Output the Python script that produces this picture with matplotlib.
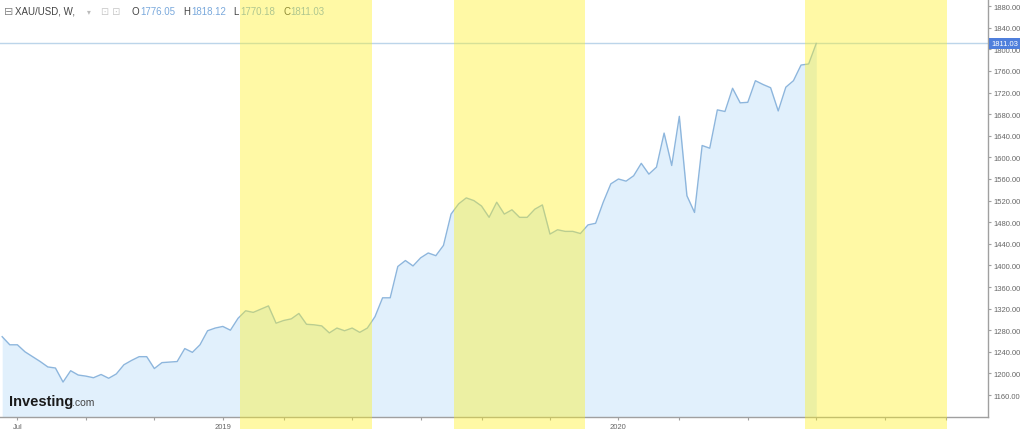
import numpy as np
import pandas as pd
import matplotlib
matplotlib.use('Agg')
import matplotlib.pyplot as plt
from matplotlib.transforms import blended_transform_factory

# weekly closes of XAU/USD, one bar per week starting Sunday
weeks = pd.date_range('2018-06-17', periods=108, freq='7D')
closes = [1268, 1253, 1253, 1240, 1231, 1222, 1212, 1210, 1184, 1205,
          1197, 1195, 1192, 1198, 1191, 1199, 1216, 1224, 1231, 1231,
          1209, 1220, 1221, 1222, 1246, 1239, 1253, 1279, 1284, 1287,
          1280, 1302, 1316, 1313, 1319, 1325, 1293, 1298, 1301, 1311,
          1291, 1290, 1288, 1275, 1284, 1279, 1284, 1276, 1284, 1305,
          1340, 1340, 1398, 1409, 1399, 1414, 1423, 1418, 1437, 1495,
          1514, 1525, 1520, 1510, 1489, 1517, 1495, 1503, 1489, 1489,
          1504, 1512, 1458, 1466, 1463, 1463, 1459, 1475, 1478, 1517,
          1551, 1560, 1556, 1566, 1589, 1569, 1582, 1645, 1585, 1676,
          1529, 1498, 1622, 1617, 1688, 1685, 1728, 1701, 1702, 1742,
          1735, 1729, 1686, 1730, 1742, 1771, 1773, 1811.03]
last_close = 1811.03
ohlc_letters = ['O', 'H', 'L', 'C']
ohlc_values = ['1776.05', '1818.12', '1770.18', '1811.03']

# highlighted periods
bands = [('2019-01-22', '2019-05-23'),
         ('2019-08-07', '2019-12-05'),
         ('2020-06-25', '2020-11-02')]

y_ticks = np.arange(1160, 1881, 40)
x_names = {(2018, 7): 'Jul', (2019, 1): '2019', (2020, 1): '2020'}

plt.rcParams['font.family'] = ['Liberation Sans', 'DejaVu Sans']

fig = plt.figure(figsize=(10.24, 4.31), dpi=100)
ax = fig.add_axes([0, 13 / 431, 988 / 1024, 418 / 431])

line_col = '#8db6dd'
fill_col = '#e1f0fc'
grey = '#a0a0a0'

ax.fill_between(weeks, closes, 1100, color=fill_col, lw=0, zorder=1)
ax.plot(weeks, closes, color=line_col, lw=1, zorder=2)
ax.axhline(last_close, color='#bcd5ea', lw=1, zorder=1.5)

for start, end in bands:
    ax.axvspan(pd.Timestamp(start), pd.Timestamp(end), ymin=-0.028, ymax=1,
               color='#fff21e', alpha=0.4, lw=0, zorder=3, clip_on=False)

ax.set_xlim(pd.Timestamp('2018-06-15'), pd.Timestamp('2020-12-10'))
ax.set_ylim(1119.3, 1893.3)

# x ticks on the first weekly bar of every odd month
sundays = pd.date_range('2018-07-01', '2020-11-30', freq='W-SUN')
firsts = sundays.to_series().groupby([sundays.year, sundays.month]).first()
tick_dates = [d for d in firsts if d.month % 2 == 1]
ax.set_xticks(tick_dates)
ax.set_xticklabels([x_names.get((d.year, d.month), '') for d in tick_dates])

ax.yaxis.tick_right()
ax.set_yticks(y_ticks)
ax.set_yticklabels(['%.2f' % v for v in y_ticks])

ax.tick_params(axis='both', colors=grey, labelcolor='#666666', labelsize=5.5,
               length=2.5, width=0.8)
ax.tick_params(axis='x', pad=2)
ax.tick_params(axis='y', pad=1.5)

for side in ['top', 'left']:
    ax.spines[side].set_visible(False)
for side in ['right', 'bottom']:
    ax.spines[side].set_color(grey)
    ax.spines[side].set_linewidth(1)

# current price label on the right axis
tr = blended_transform_factory(ax.transAxes, ax.transData)
ax.text(1.0 + 3 / 988, last_close, '1811.03', transform=tr, ha='left',
        va='center', fontsize=5.5, color='white', zorder=5, clip_on=False,
        bbox=dict(boxstyle='square,pad=0.3', fc='#4f7fdc', ec='none'))

# header text
def px(x, y):
    return x / 988, 1 - y / 418

ax.text(*px(4, 12), '\u229f', transform=ax.transAxes, fontsize=8,
        color='#888888', va='center', family=['DejaVu Sans'], zorder=2.5)
ax.text(*px(15, 12), 'XAU/USD, W,', transform=ax.transAxes, fontsize=7,
        color='#444444', va='center', zorder=2.5)
ax.text(*px(87, 12), '\u25be', transform=ax.transAxes, fontsize=5.5,
        color='#bbbbbb', va='center', family=['DejaVu Sans'], zorder=2.5)
ax.text(*px(101, 12), '\u22a1 \u22a1', transform=ax.transAxes, fontsize=7,
        color='#c8c8c8', va='center', family=['DejaVu Sans'], zorder=2.5)
letter_x = [131, 183, 233, 283]
value_x = [140, 191, 240, 290]
for letter, val, lx, vx in zip(ohlc_letters, ohlc_values, letter_x, value_x):
    ax.text(*px(lx, 12), letter, transform=ax.transAxes, fontsize=7,
            color='#444444', va='center', zorder=2.5)
    ax.text(*px(vx, 12), val, transform=ax.transAxes, fontsize=7,
            color='#7aa9dc', va='center', zorder=2.5)

# logo
ax.text(*px(9, 406), 'Investing', transform=ax.transAxes, fontsize=10.5,
        fontweight='bold', color='#1a1a1a', va='baseline', zorder=2.5)
ax.text(*px(72, 406), '.com', transform=ax.transAxes, fontsize=7.5,
        color='#444444', va='baseline', zorder=2.5)

fig.savefig('out.png', dpi=100)
